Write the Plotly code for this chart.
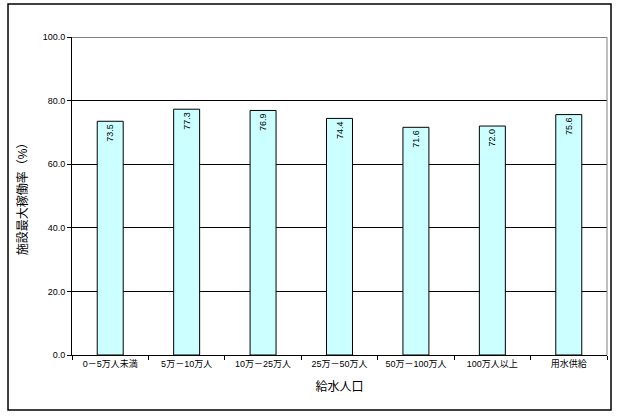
import plotly.graph_objects as go

# Facility maximum utilisation rate by served population class
categories = ["0－5万人未満", "5万－10万人", "10万－25万人", "25万－50万人",
              "50万－100万人", "100万人以上", "用水供給"]
values = [73.5, 77.3, 76.9, 74.4, 71.6, 72.0, 75.6]
y_ticks = [0, 20, 40, 60, 80, 100]
y_tick_labels = ["0.0", "20.0", "40.0", "60.0", "80.0", "100.0"]
y_max = 100

FONT = "Liberation Sans, Arial, Noto Sans CJK JP, sans-serif"

fig = go.Figure(go.Bar(
    x=categories,
    y=values,
    width=0.34,
    marker=dict(color="#ccffff", line=dict(color="#000000", width=1)),
    text=[f"{v:.1f}" for v in values],
    textposition="inside",
    insidetextanchor="end",
    textangle=-90,
    textfont=dict(family=FONT, size=9, color="#000000"),
    cliponaxis=False,
))

fig.update_layout(
    width=618, height=418,
    margin=dict(l=72, r=11, t=37, b=63),
    paper_bgcolor="#ffffff",
    plot_bgcolor="#ffffff",
    showlegend=False,
    font=dict(family=FONT, size=9, color="#000000"),
    bargap=0.66,
    xaxis=dict(
        showgrid=False,
        showline=True, linecolor="#000000", linewidth=1,
        ticks="outside", ticklen=4, tickcolor="#000000",
        tickson="boundaries",
        tickfont=dict(family=FONT, size=9, color="#000000"),
        title=dict(text="給水人口", font=dict(family=FONT, size=12, color="#000000"),
                   standoff=14),
        mirror=False,
    ),
    yaxis=dict(
        range=[0, y_max],
        tickvals=y_ticks, ticktext=y_tick_labels,
        showgrid=True, gridcolor="#000000", gridwidth=1,
        showline=True, linecolor="#000000", linewidth=1,
        ticks="outside", ticklen=4, tickcolor="#000000",
        tickfont=dict(family=FONT, size=9, color="#000000"),
        zeroline=False,
        title=dict(text="施設最大稼働率（%）", font=dict(family=FONT, size=12, color="#000000"),
                   standoff=12),
    ),
    shapes=[
        # top gridline at the axis maximum
        dict(type="line", xref="paper", yref="y", x0=0, x1=1, y0=y_max, y1=y_max,
             line=dict(color="#000000", width=1)),
        # right edge of plotting area
        dict(type="line", xref="paper", yref="paper", x0=1, x1=1, y0=0, y1=1,
             line=dict(color="#808080", width=1)),
        # outer chart frame
        dict(type="rect", xref="paper", yref="paper",
             x0=-0.1196, x1=1.0075, y0=-0.173, y1=1.104,
             line=dict(color="#000000", width=1.5), layer="below"),
    ],
)

fig.write_html("out.html")
